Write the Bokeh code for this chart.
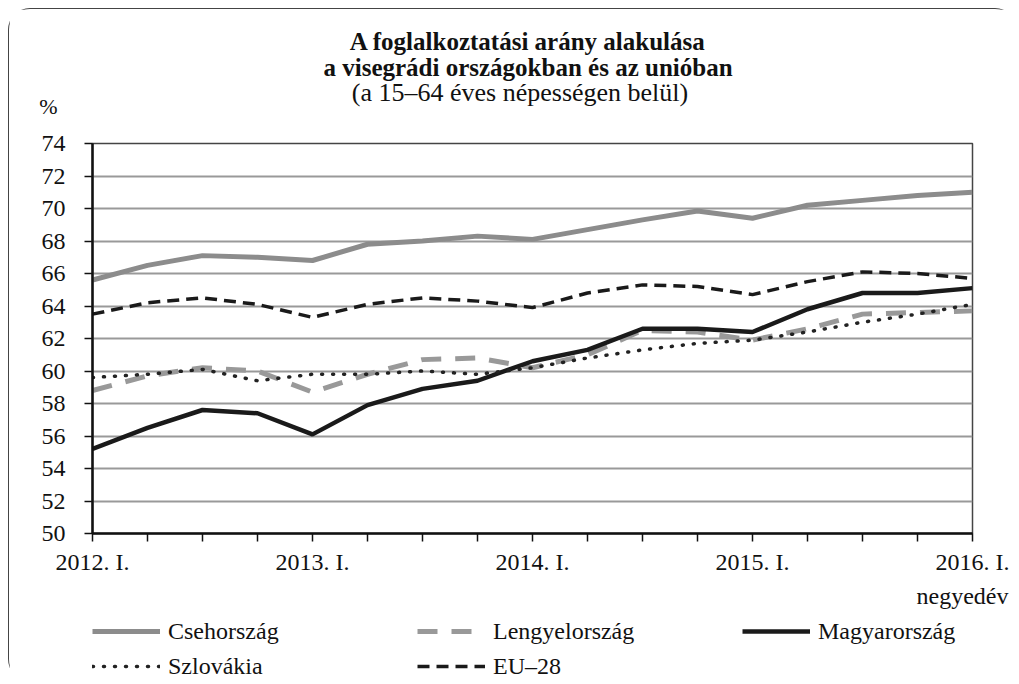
from bokeh.plotting import figure
from bokeh.layouts import column
from bokeh.models import Range1d, FixedTicker, Legend, LegendItem, Label, Title, LinearAxis
from bokeh.embed import file_html
from bokeh.resources import INLINE

# ---- data ----
x_labels = ["2012. I.", "", "", "", "2013. I.", "", "", "", "2014. I.", "", "", "",
            "2015. I.", "", "", "", "2016. I."]
quarters = list(range(len(x_labels)))

csehorszag = [65.6, 66.5, 67.1, 67.0, 66.8, 67.8, 68.0, 68.3, 68.1, 68.7, 69.3, 69.85, 69.4, 70.2, 70.5, 70.8, 71.0]
lengyelorszag = [58.8, 59.7, 60.2, 60.0, 58.7, 59.8, 60.7, 60.8, 60.2, 61.0, 62.5, 62.4, 61.9, 62.6, 63.5, 63.6, 63.7]
magyarorszag = [55.2, 56.5, 57.6, 57.4, 56.1, 57.9, 58.9, 59.4, 60.6, 61.3, 62.6, 62.6, 62.4, 63.8, 64.8, 64.8, 65.1]
szlovakia = [59.6, 59.8, 60.1, 59.4, 59.8, 59.8, 60.0, 59.8, 60.2, 60.8, 61.3, 61.7, 61.9, 62.4, 63.0, 63.5, 64.1]
eu28 = [63.5, 64.2, 64.5, 64.1, 63.3, 64.1, 64.5, 64.3, 63.9, 64.8, 65.3, 65.2, 64.7, 65.5, 66.1, 66.0, 65.7]

series_names = ["Csehország", "Lengyelország", "Magyarország", "Szlovákia", "EU–28"]
series_values = [csehorszag, lengyelorszag, magyarorszag, szlovakia, eu28]
y_ticks = list(range(50, 75, 2))

FONT = "Liberation Serif"
W = 1008

STYLES = [dict(line_color="#8c8c8c", line_width=5),
          dict(line_color="#999999", line_width=5, line_dash="20 14"),
          dict(line_color="#1a1a1a", line_width=4.5),
          dict(line_color="#222222", line_width=3.5, line_dash="1 10", line_cap="round"),
          dict(line_color="#1a1a1a", line_width=3.5, line_dash="12 7")]


def blank(height):
    # frame is aligned with the main chart's frame (page x 92.5 .. 972.5)
    f = figure(width=W, height=height, x_range=Range1d(92.5, 972.5), y_range=Range1d(0, height),
               output_backend="svg", toolbar_location=None, min_border=0,
               x_axis_location=None, y_axis_location=None)
    f.grid.visible = False
    f.outline_line_color = None
    return f


# ---- header (titles and unit) ----
HEAD_H = 112
head = blank(HEAD_H)
head.add_layout(Label(x=528, y=80, text="A foglalkoztatási arány alakulása", text_font=FONT,
                      text_font_size="25px", text_font_style="bold", text_align="center",
                      text_baseline="alphabetic", text_color="#111"))
head.add_layout(Label(x=528, y=54, text="a visegrádi országokban és az unióban", text_font=FONT,
                      text_font_size="25px", text_font_style="bold", text_align="center",
                      text_baseline="alphabetic", text_color="#111"))
head.add_layout(Label(x=520, y=29, text="(a 15–64 éves népességen belül)", text_font=FONT,
                      text_font_size="26px", text_align="center",
                      text_baseline="alphabetic", text_color="#111"))
unit_axis = LinearAxis(ticker=FixedTicker(ticks=[15]), major_label_overrides={15: "%"},
                       axis_line_color=None, major_tick_line_color=None,
                       minor_tick_line_color=None, major_tick_in=0, major_tick_out=0,
                       major_label_standoff=35, major_label_text_font=FONT,
                       major_label_text_font_size="22px", major_label_text_color="#111")
head.add_layout(unit_axis, "left")

# ---- main chart ----
p = figure(frame_width=880, frame_height=390, x_range=Range1d(0, 16), y_range=Range1d(50, 74),
           output_backend="svg", toolbar_location=None,
           min_border_left=83, min_border_right=45, min_border_top=22, min_border_bottom=80)

p.xaxis.ticker = FixedTicker(ticks=quarters)
p.xaxis.major_label_overrides = {i: lab for i, lab in enumerate(x_labels)}
p.yaxis.ticker = FixedTicker(ticks=y_ticks)
for ax in (p.xaxis, p.yaxis):
    ax.major_tick_in = 0
    ax.major_tick_out = 8
    ax.minor_tick_line_color = None
    ax.axis_line_color = "#111"
    ax.axis_line_width = 2.5
    ax.major_tick_line_color = "#111"
    ax.major_tick_line_width = 1.5
    ax.major_label_text_font = FONT
    ax.major_label_text_font_size = "24px"
    ax.major_label_text_color = "#111"
p.xaxis.major_label_standoff = 7
p.yaxis.major_label_standoff = 19

p.xgrid.visible = False
p.ygrid.grid_line_color = "#999"
p.ygrid.grid_line_width = 2
p.outline_line_color = "#444"
p.outline_line_width = 1.5

for vals, st in zip(series_values, STYLES):
    p.line(quarters, vals, **st)

p.add_layout(Title(text="negyedév", align="right", offset=-36, standoff=6, text_font=FONT,
                   text_font_size="24px", text_font_style="normal", text_color="#111"), "below")

# ---- footer (legend) ----
FOOT_H = 68
foot = blank(FOOT_H)
items = []
for name, vals, st in zip(series_names, series_values, STYLES):
    # one-point proxy line (draws nothing in the footer) carrying the series style
    r = foot.line(quarters[:1], vals[:1], **st)
    items.append(LegendItem(label=name, renderers=[r]))
legend = Legend(items=items, orientation="horizontal", ncols=3, location=(0, 1.5),
                label_text_font=FONT, label_text_font_size="24px", label_text_color="#111",
                glyph_width=68, glyph_height=20, label_standoff=8, label_width=241,
                spacing=8, padding=0, margin=0, border_line_color=None,
                background_fill_alpha=0)
foot.add_layout(legend, "center")

layout = column(head, p, foot, spacing=0)
layout.styles = {"margin-left": "8px", "margin-top": "8px",
                 "border-top": "1.5px solid #444", "border-left": "1.5px solid #444",
                 "border-top-left-radius": "22px", "border-top-right-radius": "22px",
                 "border-bottom-left-radius": "22px"}

open("out.html", "w").write(file_html(layout, INLINE))
